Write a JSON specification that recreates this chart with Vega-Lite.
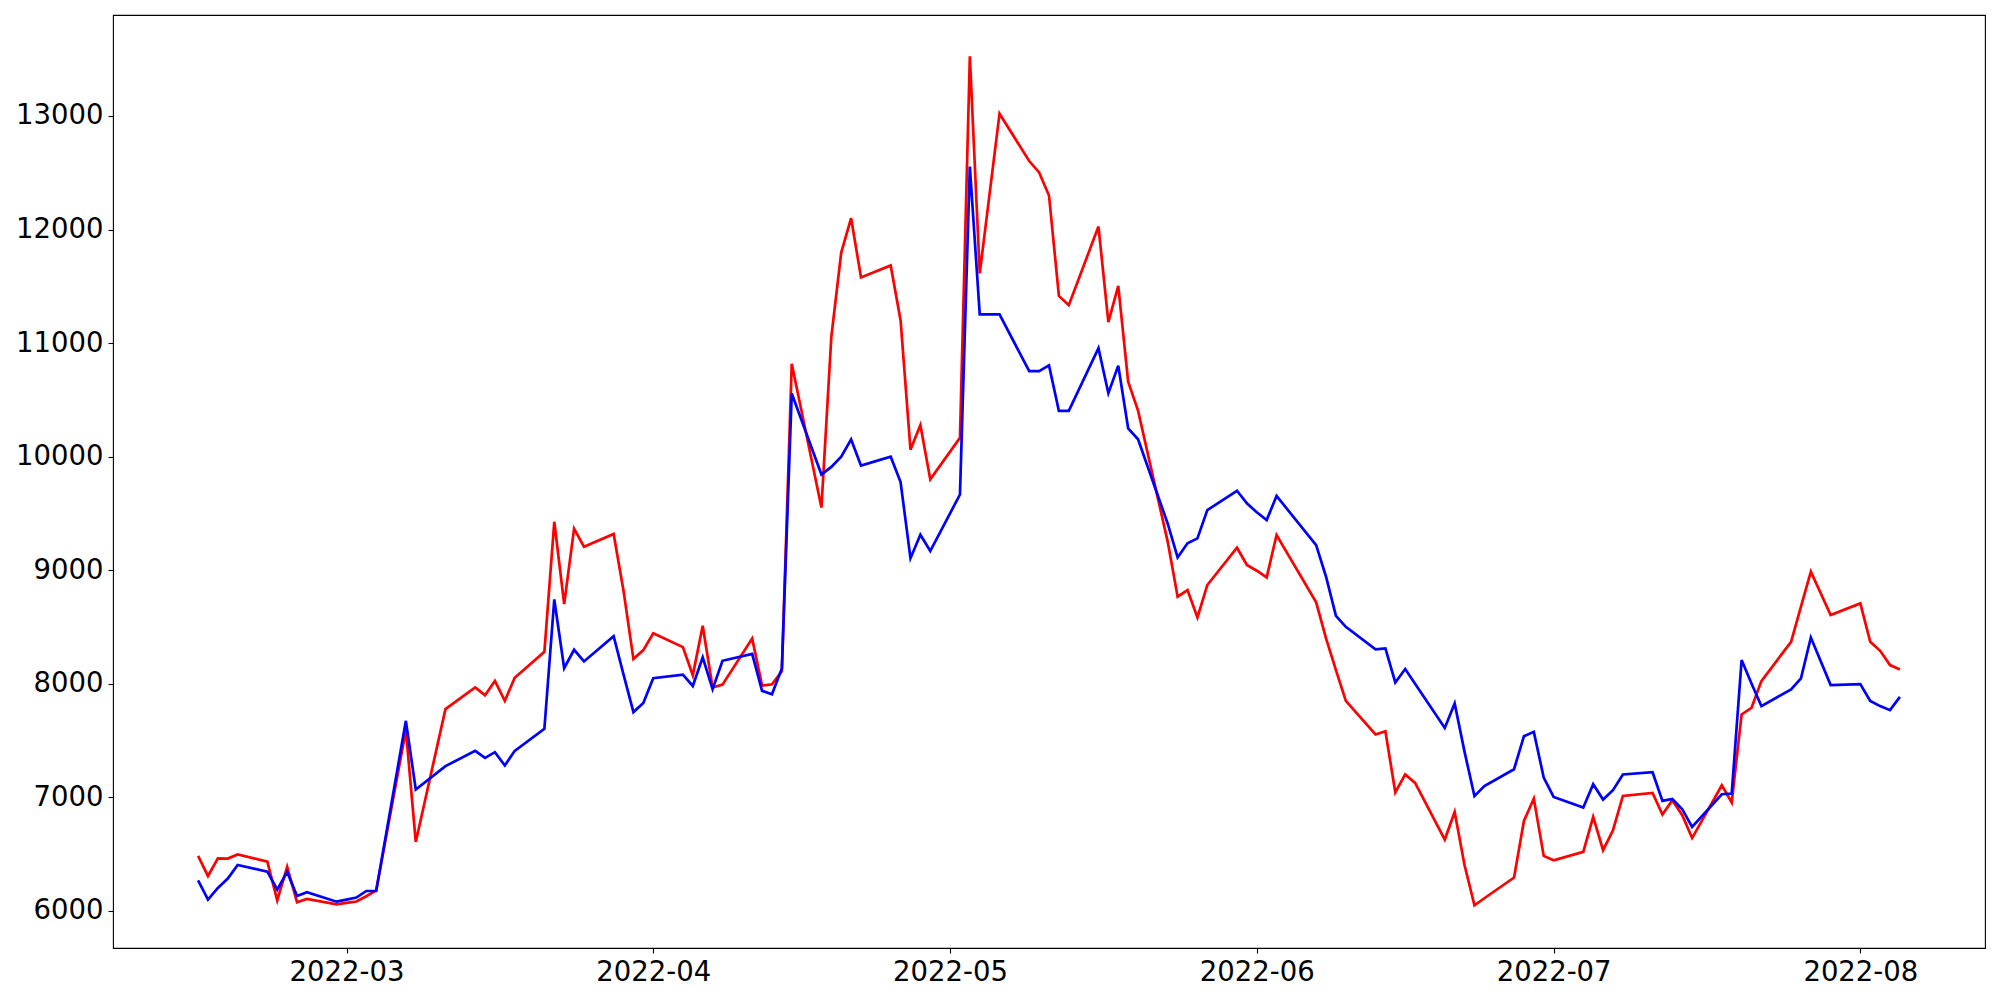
{
  "$schema": "https://vega.github.io/schema/vega-lite/v6.json",
  "autosize": "none",
  "width": 1872,
  "height": 933,
  "padding": {"left": 113, "top": 15, "right": 15, "bottom": 52},
  "background": "white",
  "config": {
    "view": {"stroke": "black", "strokeWidth": 1.1},
    "axis": {
      "labelFont": "DejaVu Sans",
      "labelFontSize": 27.5,
      "labelColor": "black",
      "tickColor": "black",
      "tickSize": 5,
      "tickWidth": 1.1,
      "domain": false,
      "grid": false,
      "title": null,
      "labelPadding": 5
    }
  },
  "datasets": {
    "red": [
      {"date": "2022-02-14", "value": 6485}, {"date": "2022-02-15", "value": 6308}, {"date": "2022-02-16", "value": 6464},
      {"date": "2022-02-17", "value": 6461}, {"date": "2022-02-18", "value": 6497}, {"date": "2022-02-21", "value": 6435},
      {"date": "2022-02-22", "value": 6094}, {"date": "2022-02-23", "value": 6388}, {"date": "2022-02-24", "value": 6077},
      {"date": "2022-02-25", "value": 6106}, {"date": "2022-02-28", "value": 6059}, {"date": "2022-03-01", "value": 6071},
      {"date": "2022-03-02", "value": 6083}, {"date": "2022-03-03", "value": 6130}, {"date": "2022-03-04", "value": 6182},
      {"date": "2022-03-07", "value": 7592}, {"date": "2022-03-08", "value": 6608}, {"date": "2022-03-11", "value": 7777},
      {"date": "2022-03-14", "value": 7968}, {"date": "2022-03-15", "value": 7900}, {"date": "2022-03-16", "value": 8026},
      {"date": "2022-03-17", "value": 7850}, {"date": "2022-03-18", "value": 8053}, {"date": "2022-03-21", "value": 8282},
      {"date": "2022-03-22", "value": 9427}, {"date": "2022-03-23", "value": 8702}, {"date": "2022-03-24", "value": 9366},
      {"date": "2022-03-25", "value": 9207}, {"date": "2022-03-28", "value": 9319}, {"date": "2022-03-29", "value": 8818},
      {"date": "2022-03-30", "value": 8218}, {"date": "2022-03-31", "value": 8297}, {"date": "2022-04-01", "value": 8445},
      {"date": "2022-04-04", "value": 8323}, {"date": "2022-04-05", "value": 8075}, {"date": "2022-04-06", "value": 8512},
      {"date": "2022-04-07", "value": 7968}, {"date": "2022-04-08", "value": 7993}, {"date": "2022-04-11", "value": 8399},
      {"date": "2022-04-12", "value": 7984}, {"date": "2022-04-13", "value": 7996}, {"date": "2022-04-14", "value": 8111},
      {"date": "2022-04-15", "value": 10818}, {"date": "2022-04-18", "value": 9552}, {"date": "2022-04-19", "value": 11055},
      {"date": "2022-04-20", "value": 11797}, {"date": "2022-04-21", "value": 12100}, {"date": "2022-04-22", "value": 11578},
      {"date": "2022-04-25", "value": 11684}, {"date": "2022-04-26", "value": 11199}, {"date": "2022-04-27", "value": 10061},
      {"date": "2022-04-28", "value": 10279}, {"date": "2022-04-29", "value": 9800}, {"date": "2022-05-02", "value": 10167},
      {"date": "2022-05-03", "value": 13526}, {"date": "2022-05-04", "value": 11614}, {"date": "2022-05-06", "value": 13020},
      {"date": "2022-05-09", "value": 12603}, {"date": "2022-05-10", "value": 12503}, {"date": "2022-05-11", "value": 12300},
      {"date": "2022-05-12", "value": 11416}, {"date": "2022-05-13", "value": 11334}, {"date": "2022-05-16", "value": 12026},
      {"date": "2022-05-17", "value": 11184}, {"date": "2022-05-18", "value": 11504}, {"date": "2022-05-19", "value": 10661},
      {"date": "2022-05-20", "value": 10405}, {"date": "2022-05-23", "value": 9250}, {"date": "2022-05-24", "value": 8767},
      {"date": "2022-05-25", "value": 8826}, {"date": "2022-05-26", "value": 8585}, {"date": "2022-05-27", "value": 8870},
      {"date": "2022-05-30", "value": 9198}, {"date": "2022-05-31", "value": 9046}, {"date": "2022-06-01", "value": 8996},
      {"date": "2022-06-02", "value": 8937}, {"date": "2022-06-03", "value": 9310}, {"date": "2022-06-07", "value": 8717},
      {"date": "2022-06-08", "value": 8400}, {"date": "2022-06-09", "value": 8121}, {"date": "2022-06-10", "value": 7850},
      {"date": "2022-06-13", "value": 7554}, {"date": "2022-06-14", "value": 7583}, {"date": "2022-06-15", "value": 7043},
      {"date": "2022-06-16", "value": 7202}, {"date": "2022-06-17", "value": 7128}, {"date": "2022-06-20", "value": 6629},
      {"date": "2022-06-21", "value": 6872}, {"date": "2022-06-22", "value": 6403}, {"date": "2022-06-23", "value": 6050},
      {"date": "2022-06-24", "value": 6112}, {"date": "2022-06-27", "value": 6294}, {"date": "2022-06-28", "value": 6793},
      {"date": "2022-06-29", "value": 6990}, {"date": "2022-06-30", "value": 6485}, {"date": "2022-07-01", "value": 6447},
      {"date": "2022-07-04", "value": 6520}, {"date": "2022-07-05", "value": 6828}, {"date": "2022-07-06", "value": 6535},
      {"date": "2022-07-07", "value": 6711}, {"date": "2022-07-08", "value": 7013}, {"date": "2022-07-11", "value": 7040},
      {"date": "2022-07-12", "value": 6849}, {"date": "2022-07-13", "value": 6975}, {"date": "2022-07-14", "value": 6843},
      {"date": "2022-07-15", "value": 6642}, {"date": "2022-07-18", "value": 7107}, {"date": "2022-07-19", "value": 6955},
      {"date": "2022-07-20", "value": 7730}, {"date": "2022-07-21", "value": 7789}, {"date": "2022-07-22", "value": 8024},
      {"date": "2022-07-25", "value": 8370}, {"date": "2022-07-26", "value": 8679}, {"date": "2022-07-27", "value": 8987},
      {"date": "2022-07-29", "value": 8605}, {"date": "2022-08-01", "value": 8708}, {"date": "2022-08-02", "value": 8370},
      {"date": "2022-08-03", "value": 8291}, {"date": "2022-08-04", "value": 8165}, {"date": "2022-08-05", "value": 8127}
    ],
    "blue": [
      {"date": "2022-02-14", "value": 6270}, {"date": "2022-02-15", "value": 6100}, {"date": "2022-02-16", "value": 6203},
      {"date": "2022-02-17", "value": 6285}, {"date": "2022-02-18", "value": 6405}, {"date": "2022-02-21", "value": 6347},
      {"date": "2022-02-22", "value": 6188}, {"date": "2022-02-23", "value": 6344}, {"date": "2022-02-24", "value": 6132},
      {"date": "2022-02-25", "value": 6165}, {"date": "2022-02-28", "value": 6082}, {"date": "2022-03-01", "value": 6100},
      {"date": "2022-03-02", "value": 6118}, {"date": "2022-03-03", "value": 6176}, {"date": "2022-03-04", "value": 6176},
      {"date": "2022-03-07", "value": 7674}, {"date": "2022-03-08", "value": 7070}, {"date": "2022-03-11", "value": 7275},
      {"date": "2022-03-14", "value": 7410}, {"date": "2022-03-15", "value": 7348}, {"date": "2022-03-16", "value": 7398},
      {"date": "2022-03-17", "value": 7281}, {"date": "2022-03-18", "value": 7410}, {"date": "2022-03-21", "value": 7604},
      {"date": "2022-03-22", "value": 8743}, {"date": "2022-03-23", "value": 8138}, {"date": "2022-03-24", "value": 8300},
      {"date": "2022-03-25", "value": 8197}, {"date": "2022-03-28", "value": 8420}, {"date": "2022-03-29", "value": 8081},
      {"date": "2022-03-30", "value": 7751}, {"date": "2022-03-31", "value": 7832}, {"date": "2022-04-01", "value": 8050},
      {"date": "2022-04-04", "value": 8081}, {"date": "2022-04-05", "value": 7981}, {"date": "2022-04-06", "value": 8233},
      {"date": "2022-04-07", "value": 7953}, {"date": "2022-04-08", "value": 8203}, {"date": "2022-04-11", "value": 8263},
      {"date": "2022-04-12", "value": 7938}, {"date": "2022-04-13", "value": 7908}, {"date": "2022-04-14", "value": 8136},
      {"date": "2022-04-15", "value": 10557}, {"date": "2022-04-18", "value": 9843}, {"date": "2022-04-19", "value": 9910},
      {"date": "2022-04-20", "value": 10000}, {"date": "2022-04-21", "value": 10152}, {"date": "2022-04-22", "value": 9921},
      {"date": "2022-04-25", "value": 10000}, {"date": "2022-04-26", "value": 9776}, {"date": "2022-04-27", "value": 9106},
      {"date": "2022-04-28", "value": 9312}, {"date": "2022-04-29", "value": 9169}, {"date": "2022-05-02", "value": 9667},
      {"date": "2022-05-03", "value": 12555}, {"date": "2022-05-04", "value": 11253}, {"date": "2022-05-06", "value": 11253},
      {"date": "2022-05-09", "value": 10753}, {"date": "2022-05-10", "value": 10753}, {"date": "2022-05-11", "value": 10804},
      {"date": "2022-05-12", "value": 10403}, {"date": "2022-05-13", "value": 10403}, {"date": "2022-05-16", "value": 10955},
      {"date": "2022-05-17", "value": 10559}, {"date": "2022-05-18", "value": 10802}, {"date": "2022-05-19", "value": 10250},
      {"date": "2022-05-20", "value": 10153}, {"date": "2022-05-23", "value": 9410}, {"date": "2022-05-24", "value": 9113},
      {"date": "2022-05-25", "value": 9237}, {"date": "2022-05-26", "value": 9281}, {"date": "2022-05-27", "value": 9530},
      {"date": "2022-05-30", "value": 9700}, {"date": "2022-05-31", "value": 9589}, {"date": "2022-06-01", "value": 9510},
      {"date": "2022-06-02", "value": 9442}, {"date": "2022-06-03", "value": 9654}, {"date": "2022-06-07", "value": 9222},
      {"date": "2022-06-08", "value": 8943}, {"date": "2022-06-09", "value": 8599}, {"date": "2022-06-10", "value": 8502},
      {"date": "2022-06-13", "value": 8303}, {"date": "2022-06-14", "value": 8312}, {"date": "2022-06-15", "value": 8012},
      {"date": "2022-06-16", "value": 8130}, {"date": "2022-06-17", "value": 8000}, {"date": "2022-06-20", "value": 7612},
      {"date": "2022-06-21", "value": 7827}, {"date": "2022-06-22", "value": 7401}, {"date": "2022-06-23", "value": 7011},
      {"date": "2022-06-24", "value": 7099}, {"date": "2022-06-27", "value": 7248}, {"date": "2022-06-28", "value": 7539},
      {"date": "2022-06-29", "value": 7577}, {"date": "2022-06-30", "value": 7175}, {"date": "2022-07-01", "value": 7004},
      {"date": "2022-07-04", "value": 6911}, {"date": "2022-07-05", "value": 7116}, {"date": "2022-07-06", "value": 6981},
      {"date": "2022-07-07", "value": 7063}, {"date": "2022-07-08", "value": 7202}, {"date": "2022-07-11", "value": 7222},
      {"date": "2022-07-12", "value": 6969}, {"date": "2022-07-13", "value": 6987}, {"date": "2022-07-14", "value": 6896},
      {"date": "2022-07-15", "value": 6740}, {"date": "2022-07-18", "value": 7028}, {"date": "2022-07-19", "value": 7034},
      {"date": "2022-07-20", "value": 8209}, {"date": "2022-07-21", "value": 8003}, {"date": "2022-07-22", "value": 7804},
      {"date": "2022-07-25", "value": 7951}, {"date": "2022-07-26", "value": 8048}, {"date": "2022-07-27", "value": 8408},
      {"date": "2022-07-29", "value": 7989}, {"date": "2022-08-01", "value": 7997}, {"date": "2022-08-02", "value": 7850},
      {"date": "2022-08-03", "value": 7804}, {"date": "2022-08-04", "value": 7768}, {"date": "2022-08-05", "value": 7885}
    ]
  },
  "encoding": {
    "x": {
      "field": "date",
      "type": "temporal",
      "scale": {
        "type": "utc",
        "domain": [
          {"year": 2022, "month": 2, "date": 5, "hours": 9, "minutes": 36, "utc": true},
          {"year": 2022, "month": 8, "date": 13, "hours": 14, "minutes": 24, "utc": true}
        ]
      },
      "axis": {
        "labelExpr": "utcFormat(datum.value, '%Y-%m')",
        "values": [
          {"year": 2022, "month": 3, "date": 1, "utc": true},
          {"year": 2022, "month": 4, "date": 1, "utc": true},
          {"year": 2022, "month": 5, "date": 1, "utc": true},
          {"year": 2022, "month": 6, "date": 1, "utc": true},
          {"year": 2022, "month": 7, "date": 1, "utc": true},
          {"year": 2022, "month": 8, "date": 1, "utc": true}
        ]
      }
    },
    "y": {
      "field": "value",
      "type": "quantitative",
      "scale": {"domain": [5674, 13889], "zero": false, "nice": false},
      "axis": {"values": [6000, 7000, 8000, 9000, 10000, 11000, 12000, 13000], "format": "d"}
    }
  },
  "layer": [
    {"data": {"name": "red"}, "mark": {"type": "line", "color": "#ff0000", "strokeWidth": 2.7, "clip": true}},
    {"data": {"name": "blue"}, "mark": {"type": "line", "color": "#0000ff", "strokeWidth": 2.7, "clip": true}}
  ]
}
